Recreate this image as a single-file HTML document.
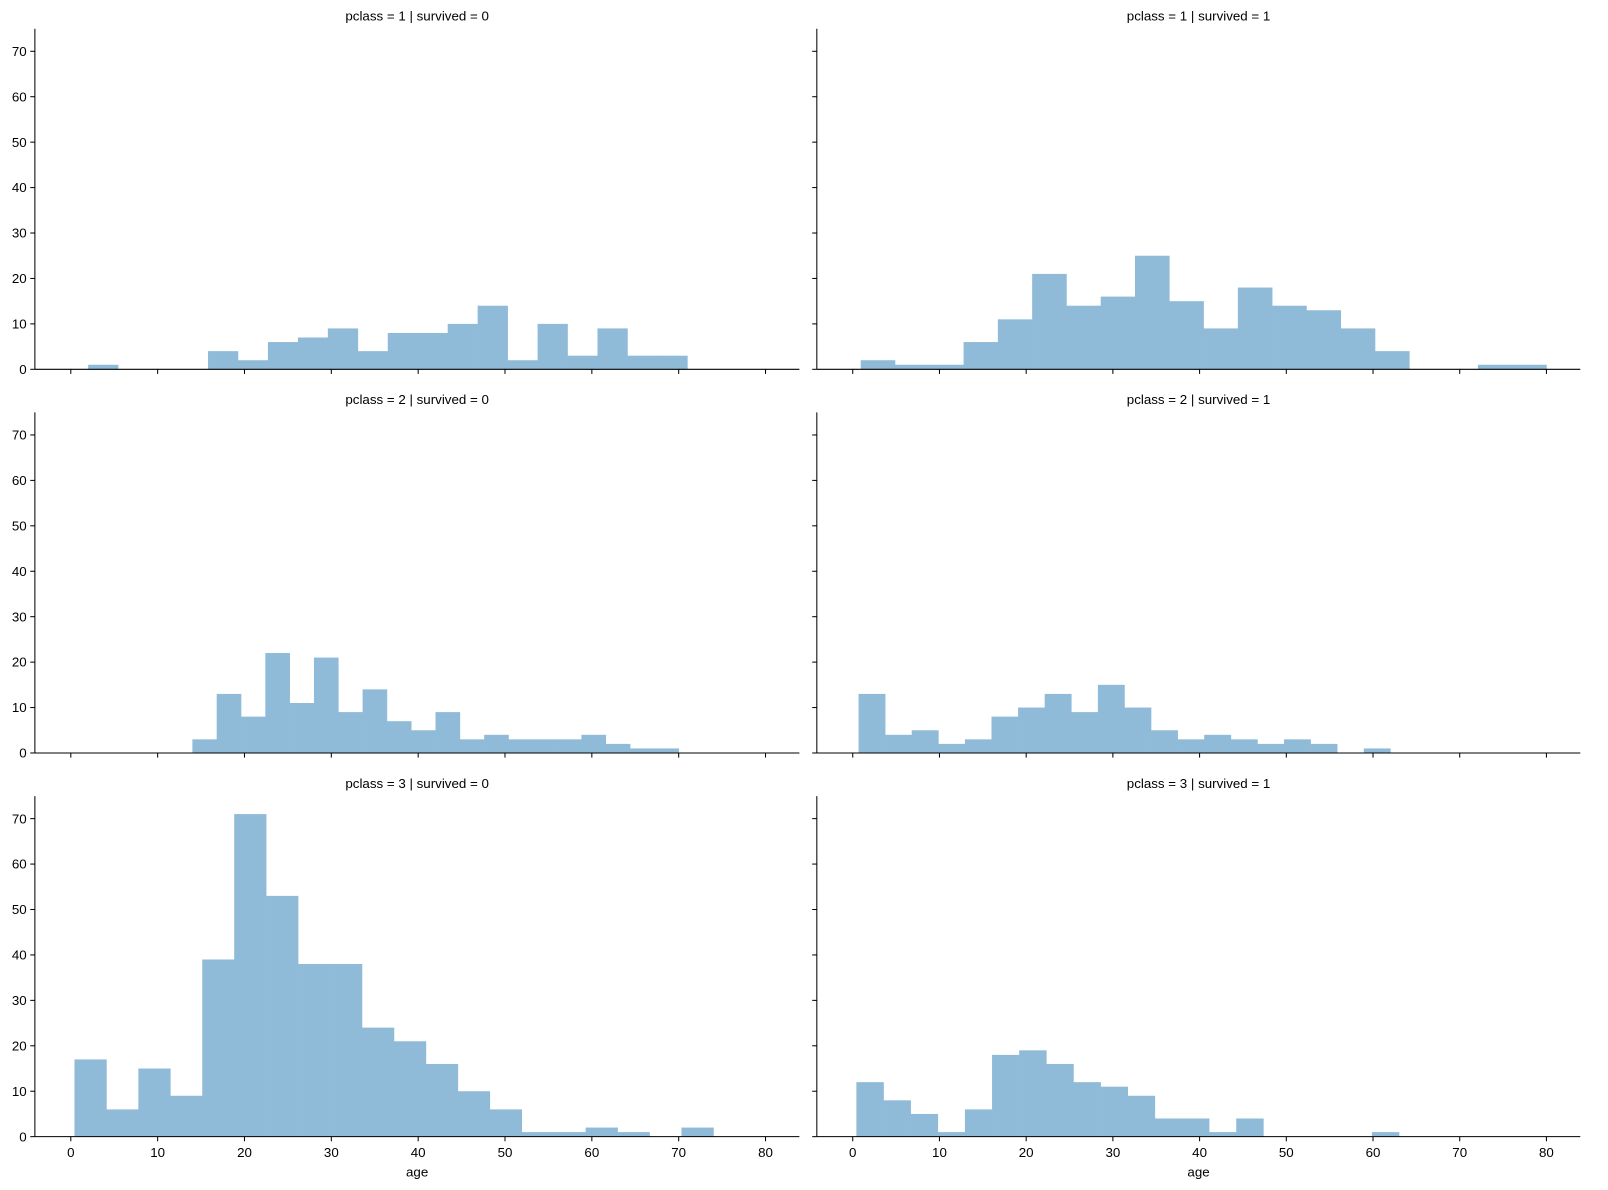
<!DOCTYPE html>
<html><head><meta charset="utf-8">
<style>body{margin:0;background:#fff}svg{display:block;font-family:"Liberation Sans","DejaVu Sans",sans-serif}</style>
</head><body>
<svg id="chart" width="1608" height="1190" viewBox="0 0 1567 1160" preserveAspectRatio="none"></svg>
<script>
const panelTitles = ["pclass = 1 | survived = 0","pclass = 1 | survived = 1","pclass = 2 | survived = 0","pclass = 2 | survived = 1","pclass = 3 | survived = 0","pclass = 3 | survived = 1"];
const binMin = [2, 0.92, 14, 0.67, 0.42, 0.42];
const binMax = [71, 80, 70, 62, 74, 63];
const counts0 = [1,0,0,0,4,2,6,7,9,4,8,8,10,14,2,10,3,9,3,3];
const counts1 = [2,1,1,6,11,21,14,16,25,15,9,18,14,13,9,4,0,0,1,1];
const counts2 = [3,13,8,22,11,21,9,14,7,5,9,3,4,3,3,3,4,2,1,1];
const counts3 = [13,4,5,2,3,8,10,13,9,15,10,5,3,4,3,2,3,2,0,1];
const counts4 = [17,6,15,9,39,71,53,38,38,24,21,16,10,6,1,1,2,1,0,2];
const counts5 = [12,8,5,1,6,18,19,16,12,11,9,4,4,1,4,0,0,0,0,1];
const allCounts = [counts0,counts1,counts2,counts3,counts4,counts5];
const xTicks = [0,10,20,30,40,50,60,70,80];
const yTicks = [0,10,20,30,40,50,60,70];

const svg = document.getElementById('chart');
const NS = 'http://www.w3.org/2000/svg';
function mk(tag, attrs, parent){const e=document.createElementNS(NS,tag);for(const k in attrs)e.setAttribute(k,attrs[k]);(parent||svg).appendChild(e);return e;}
const cols = [{x0:34,x1:779,zero:69,pxu:8.4625},{x0:796,x1:1540,zero:831,pxu:8.45}];
const rows = [{top:28,base:360},{top:402,base:734},{top:776,base:1108}];
const ypx = 310/70;

for(let p=0;p<6;p++){
  const c=cols[p%2], r=rows[Math.floor(p/2)];
  const xs=v=>c.zero+v*c.pxu, ys=v=>r.base-v*ypx;
  const g=mk('g',{});
  
  
  const data=allCounts[p], n=data.length, w=(binMax[p]-binMin[p])/n;
  for(let i=0;i<n;i++){
    if(data[i]<=0) continue;
    const a=xs(binMin[p]+i*w), b=xs(binMin[p]+(i+1)*w);
    const rc=mk('rect',{x:a,y:ys(data[i]),width:b-a+0.3,height:r.base-ys(data[i]),fill:'#8fbbd9'},g);
    
    
  }
  mk('line',{x1:c.x0,y1:r.top,x2:c.x0,y2:r.base,stroke:'#000','stroke-width':1},g);
  mk('line',{x1:c.x0,y1:r.base,x2:c.x1,y2:r.base,stroke:'#000','stroke-width':1},g);
  yTicks.forEach(t=>{
    mk('line',{x1:c.x0-4.5,y1:ys(t),x2:c.x0,y2:ys(t),stroke:'#000'},g);
    if(p%2===0){const tx=mk('text',{x:c.x0-8,y:ys(t)+4.5,'font-size':13,'text-anchor':'end'},g);tx.textContent=t;
      }
  });
  xTicks.forEach(t=>{
    mk('line',{x1:xs(t),y1:r.base,x2:xs(t),y2:r.base+4.5,stroke:'#000'},g);
    if(p>=4){const tx=mk('text',{x:xs(t),y:r.base+20,'font-size':13,'text-anchor':'middle'},g);tx.textContent=t;
      }
  });
  const tt=mk('text',{x:(c.x0+c.x1)/2,y:r.top-8,'font-size':13,'text-anchor':'middle'},g);
  tt.textContent=panelTitles[p];
  
  
  if(p>=4){const xl=mk('text',{x:(c.x0+c.x1)/2,y:r.base+39,'font-size':13,'text-anchor':'middle'},g);xl.textContent='age';
    }
}
</script>
</body></html>
